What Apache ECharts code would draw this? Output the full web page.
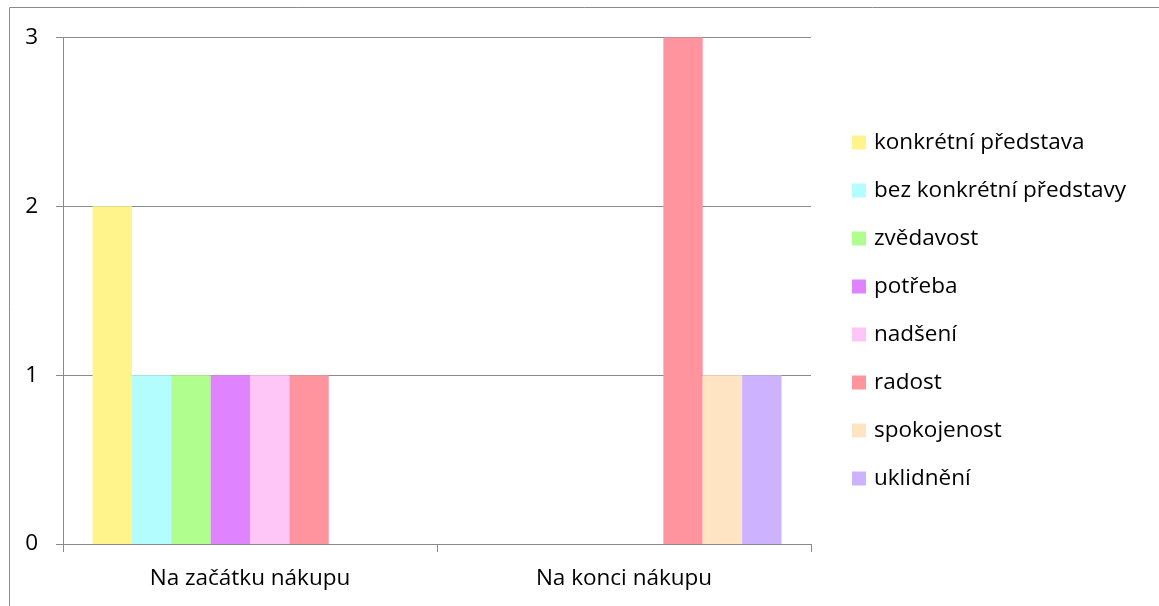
<!DOCTYPE html>
<html>
<head>
<meta charset="utf-8">
<script src="https://cdn.jsdelivr.net/npm/echarts@6/dist/echarts.min.js"></script>
<style>
  html, body { margin: 0; padding: 0; background: #fff; }
  #chart { width: 1159px; height: 606px; }
</style>
</head>
<body>
<div id="chart"></div>
<script>
// Categories (moments of the purchase)
const categories = ['Na začátku nákupu', 'Na konci nákupu'];

// Series names (feelings) and their counts per category
const seriesNames = [
  'konkrétní představa',
  'bez konkrétní představy',
  'zvědavost',
  'potřeba',
  'nadšení',
  'radost',
  'spokojenost',
  'uklidnění'
];
const konkretniPredstava = [2, 0];
const bezKonkretniPredstavy = [1, 0];
const zvedavost = [1, 0];
const potreba = [1, 0];
const nadseni = [1, 0];
const radost = [1, 3];
const spokojenost = [0, 1];
const uklidneni = [0, 1];

const seriesValues = [
  konkretniPredstava, bezKonkretniPredstavy, zvedavost, potreba,
  nadseni, radost, spokojenost, uklidneni
];

const seriesColors = [
  '#FFF48C', '#B3FCFF', '#B0FF8E', '#E083FF',
  '#FEC6F6', '#FF949E', '#FFE4C4', '#CDB3FF'
];

// y-axis ticks
const yTicks = [0, 1, 2, 3];

const FONT = 'Open Sans';
const FONT_SIZE = 22.5;

const chart = echarts.init(document.getElementById('chart'), null, { renderer: 'canvas' });

chart.setOption({
  animation: false,
  backgroundColor: '#ffffff',
  textStyle: { fontFamily: FONT },
  graphic: [{
    type: 'rect',
    shape: { x: 9.5, y: 7.5, width: 1300, height: 800 },
    style: { fill: 'none', stroke: '#8a8a8a', lineWidth: 1 },
    silent: true,
    z: -1
  }],
  grid: { left: 63, right: 348, top: 37.5, bottom: 62, containLabel: false },
  legend: {
    orient: 'vertical',
    left: 852,
    top: 131,
    padding: 0,
    itemWidth: 14,
    itemHeight: 14,
    itemGap: 25,
    icon: 'rect',
    textStyle: { fontFamily: FONT, fontSize: FONT_SIZE, lineHeight: 23, color: '#000', padding: [0, 0, 0, 3] },
    data: seriesNames
  },
  xAxis: {
    type: 'category',
    data: categories,
    boundaryGap: true,
    axisLine: { lineStyle: { color: '#8a8a8a', width: 1 } },
    axisTick: { show: true, length: 8, alignWithLabel: false, lineStyle: { color: '#8a8a8a' } },
    axisLabel: { fontFamily: FONT, fontSize: FONT_SIZE, color: '#000', margin: 23 },
    splitLine: { show: false }
  },
  yAxis: {
    type: 'value',
    min: yTicks[0],
    max: yTicks[yTicks.length - 1],
    interval: 1,
    axisLine: { show: true, lineStyle: { color: '#8a8a8a', width: 1 } },
    axisTick: { show: true, length: 7, inside: false, lineStyle: { color: '#8a8a8a' } },
    axisLabel: { fontFamily: FONT, fontSize: FONT_SIZE, color: '#000', margin: 25 },
    splitLine: { show: true, lineStyle: { color: '#8a8a8a', width: 1 } }
  },
  series: seriesNames.map((name, i) => ({
    name: name,
    type: 'bar',
    data: seriesValues[i],
    barGap: '0%',
    barCategoryGap: '15.8%',
    itemStyle: { color: seriesColors[i] },
    emphasis: { disabled: true }
  }))
});
</script>
</body>
</html>
